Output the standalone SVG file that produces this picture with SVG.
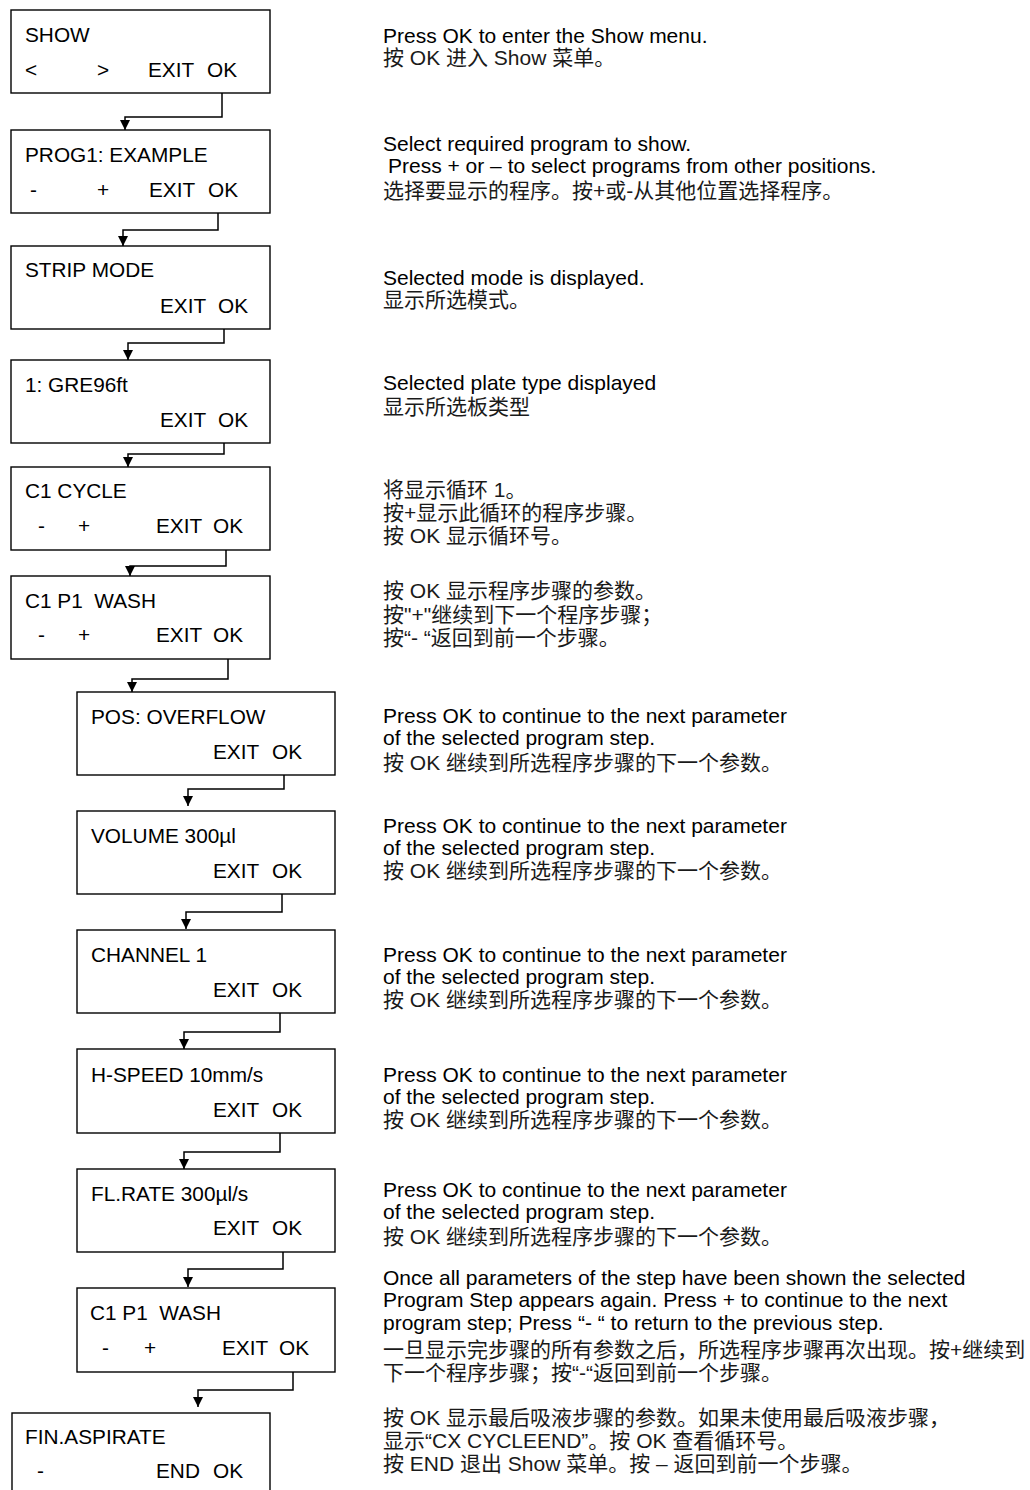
<svg xmlns="http://www.w3.org/2000/svg" width="1030" height="1490" viewBox="0 0 1030 1490">
<style>
.box{fill:#fff;stroke:#000;stroke-width:1.4}
.t{font-family:"Liberation Sans",Arial,"Noto Sans CJK SC",sans-serif;font-size:20.8px;fill:#000}
.d{font-family:"Liberation Sans",Arial,"Noto Sans CJK SC",sans-serif;font-size:21px;fill:#000}
.c{font-family:"Liberation Sans",Arial,"Noto Sans CJK SC",sans-serif;font-size:21px;fill:#1a1a1a}
.con{fill:none;stroke:#000;stroke-width:1.5}
</style>
<defs>
<marker id="ah" viewBox="0 0 10 10" refX="10" refY="5" markerUnits="userSpaceOnUse" markerWidth="12" markerHeight="10" orient="auto">
<path d="M0,0 L10,5 L0,10 z" fill="#000"/>
</marker>
</defs>
<rect width="1030" height="1490" fill="#fff"/>

<g id="connectors">
<path class="con" marker-end="url(#ah)" d="M222,93 V117 H125 V130"/>
<path class="con" marker-end="url(#ah)" d="M218,213 V230 H123 V246"/>
<path class="con" marker-end="url(#ah)" d="M224,329 V343 H128 V360"/>
<path class="con" marker-end="url(#ah)" d="M224,443 V454 H128 V467"/>
<path class="con" marker-end="url(#ah)" d="M226,550 V566 H130 V576"/>
<path class="con" marker-end="url(#ah)" d="M228,659 V679 H132 V692"/>
<path class="con" marker-end="url(#ah)" d="M284,775 V789 H188 V806"/>
<path class="con" marker-end="url(#ah)" d="M282,894 V912 H186 V929"/>
<path class="con" marker-end="url(#ah)" d="M280,1013 V1032 H184 V1049"/>
<path class="con" marker-end="url(#ah)" d="M280,1133 V1152 H184 V1169"/>
<path class="con" marker-end="url(#ah)" d="M283,1252 V1269 H188 V1287"/>
<path class="con" marker-end="url(#ah)" d="M293,1372 V1390 H198 V1407"/>
</g>

<g id="n1">
<rect class="box" x="11" y="10" width="259" height="83"/>
<text class="t" x="25" y="42">SHOW</text>
<text class="t" x="25" y="77">&lt;</text>
<text class="t" x="97" y="77">&gt;</text>
<text class="t" x="148" y="77">EXIT</text>
<text class="t" x="207" y="77">OK</text>
</g>
<g id="n2">
<rect class="box" x="11" y="130" width="259" height="83"/>
<text class="t" x="25" y="162">PROG1: EXAMPLE</text>
<text class="t" x="30" y="197">-</text>
<text class="t" x="97" y="197">+</text>
<text class="t" x="149" y="197">EXIT</text>
<text class="t" x="208" y="197">OK</text>
</g>
<g id="n3">
<rect class="box" x="11" y="246" width="259" height="83"/>
<text class="t" x="25" y="277">STRIP MODE</text>
<text class="t" x="160" y="313">EXIT</text>
<text class="t" x="218" y="313">OK</text>
</g>
<g id="n4">
<rect class="box" x="11" y="360" width="259" height="83"/>
<text class="t" x="25" y="392">1: GRE96ft</text>
<text class="t" x="160" y="427">EXIT</text>
<text class="t" x="218" y="427">OK</text>
</g>
<g id="n5">
<rect class="box" x="11" y="467" width="259" height="83"/>
<text class="t" x="25" y="498">C1 CYCLE</text>
<text class="t" x="38" y="533">-</text>
<text class="t" x="78" y="533">+</text>
<text class="t" x="156" y="533">EXIT</text>
<text class="t" x="213" y="533">OK</text>
</g>
<g id="n6">
<rect class="box" x="11" y="576" width="259" height="83"/>
<text class="t" x="25" y="608" xml:space="preserve">C1 P1  WASH</text>
<text class="t" x="38" y="642">-</text>
<text class="t" x="78" y="642">+</text>
<text class="t" x="156" y="642">EXIT</text>
<text class="t" x="213" y="642">OK</text>
</g>
<g id="n7">
<rect class="box" x="77" y="692" width="258" height="83"/>
<text class="t" x="91" y="724">POS: OVERFLOW</text>
<text class="t" x="213" y="759">EXIT</text>
<text class="t" x="272" y="759">OK</text>
</g>
<g id="n8">
<rect class="box" x="77" y="811" width="258" height="83"/>
<text class="t" x="91" y="843">VOLUME 300µl</text>
<text class="t" x="213" y="878">EXIT</text>
<text class="t" x="272" y="878">OK</text>
</g>
<g id="n9">
<rect class="box" x="77" y="930" width="258" height="83"/>
<text class="t" x="91" y="962">CHANNEL 1</text>
<text class="t" x="213" y="997">EXIT</text>
<text class="t" x="272" y="997">OK</text>
</g>
<g id="n10">
<rect class="box" x="77" y="1049" width="258" height="84"/>
<text class="t" x="91" y="1082">H-SPEED 10mm/s</text>
<text class="t" x="213" y="1117">EXIT</text>
<text class="t" x="272" y="1117">OK</text>
</g>
<g id="n11">
<rect class="box" x="77" y="1169" width="258" height="83"/>
<text class="t" x="91" y="1201">FL.RATE 300µl/s</text>
<text class="t" x="213" y="1235">EXIT</text>
<text class="t" x="272" y="1235">OK</text>
</g>
<g id="n12">
<rect class="box" x="77" y="1288" width="258" height="84"/>
<text class="t" x="90" y="1320" xml:space="preserve">C1 P1  WASH</text>
<text class="t" x="102" y="1355">-</text>
<text class="t" x="144" y="1355">+</text>
<text class="t" x="222" y="1355">EXIT</text>
<text class="t" x="279" y="1355">OK</text>
</g>
<g id="n13">
<rect class="box" x="12" y="1413" width="258" height="95"/>
<text class="t" x="25" y="1444">FIN.ASPIRATE</text>
<text class="t" x="37" y="1478">-</text>
<text class="t" x="156" y="1478">END</text>
<text class="t" x="213" y="1478">OK</text>
</g>

<g id="descriptions">
<text class="d" x="383" y="43">Press OK to enter the Show menu.</text>
<text class="c" x="383" y="65">按 OK 进入 Show 菜单。</text>

<text class="d" x="383" y="151">Select required program to show.</text>
<text class="d" x="388" y="173">Press + or – to select programs from other positions.</text>
<text class="c" x="383" y="198">选择要显示的程序。按+或-从其他位置选择程序。</text>

<text class="d" x="383" y="285">Selected mode is displayed.</text>
<text class="c" x="383" y="307">显示所选模式。</text>

<text class="d" x="383" y="390">Selected plate type displayed</text>
<text class="c" x="383" y="414">显示所选板类型</text>

<text class="c" x="383" y="497">将显示循环 1。</text>
<text class="c" x="383" y="520">按+显示此循环的程序步骤。</text>
<text class="c" x="383" y="543">按 OK 显示循环号。</text>

<text class="c" x="383" y="598">按 OK 显示程序步骤的参数。</text>
<text class="c" x="383" y="622">按"+"继续到下一个程序步骤；</text>
<text class="c" x="383" y="645">按“- “返回到前一个步骤。</text>

<text class="d" x="383" y="723">Press OK to continue to the next parameter</text>
<text class="d" x="383" y="745">of the selected program step.</text>
<text class="c" x="383" y="770">按 OK 继续到所选程序步骤的下一个参数。</text>

<text class="d" x="383" y="833">Press OK to continue to the next parameter</text>
<text class="d" x="383" y="855">of the selected program step.</text>
<text class="c" x="383" y="878">按 OK 继续到所选程序步骤的下一个参数。</text>

<text class="d" x="383" y="962">Press OK to continue to the next parameter</text>
<text class="d" x="383" y="984">of the selected program step.</text>
<text class="c" x="383" y="1007">按 OK 继续到所选程序步骤的下一个参数。</text>

<text class="d" x="383" y="1082">Press OK to continue to the next parameter</text>
<text class="d" x="383" y="1104">of the selected program step.</text>
<text class="c" x="383" y="1127">按 OK 继续到所选程序步骤的下一个参数。</text>

<text class="d" x="383" y="1197">Press OK to continue to the next parameter</text>
<text class="d" x="383" y="1219">of the selected program step.</text>
<text class="c" x="383" y="1244">按 OK 继续到所选程序步骤的下一个参数。</text>

<text class="d" x="383" y="1285">Once all parameters of the step have been shown the selected</text>
<text class="d" x="383" y="1307">Program Step appears again. Press + to continue to the next</text>
<text class="d" x="383" y="1330">program step; Press “- “ to return to the previous step.</text>
<text class="c" x="383" y="1357">一旦显示完步骤的所有参数之后，所选程序步骤再次出现。按+继续到</text>
<text class="c" x="383" y="1380">下一个程序步骤；按“-“返回到前一个步骤。</text>

<text class="c" x="383" y="1425">按 OK 显示最后吸液步骤的参数。如果未使用最后吸液步骤，</text>
<text class="c" x="383" y="1448">显示“CX CYCLEEND”。按 OK 查看循环号。</text>
<text class="c" x="383" y="1471">按 END 退出 Show 菜单。按 – 返回到前一个步骤。</text>
</g>
</svg>
